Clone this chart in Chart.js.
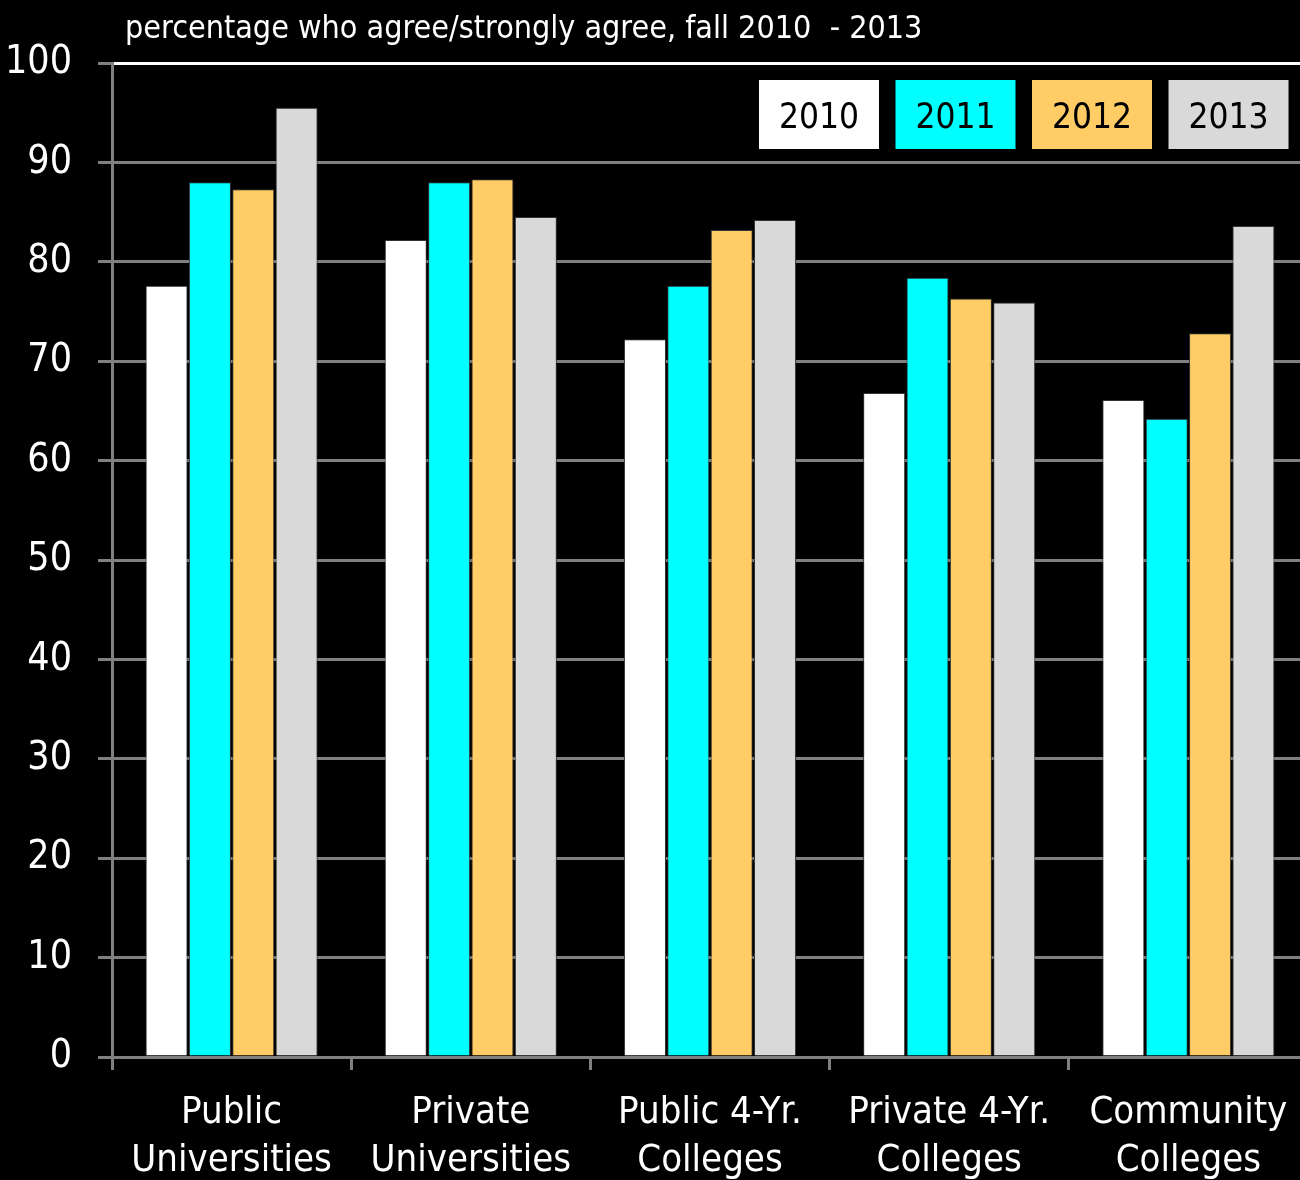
<!DOCTYPE html>
<html>
<head>
<meta charset="utf-8">
<script src="https://cdn.jsdelivr.net/npm/chart.js@4"></script>
<style>
  html, body { margin: 0; padding: 0; background: #000; overflow: hidden; }
  #wrap { width: 1310px; height: 1180px; position: relative; }
</style>
</head>
<body>
<div id="wrap"><canvas id="myChart"></canvas></div>
<script>
const categories = [
    ['Public', 'Universities'],
    ['Private', 'Universities'],
    ['Public 4-Yr.', 'Colleges'],
    ['Private 4-Yr.', 'Colleges'],
    ['Community', 'Colleges']
]
const years = ['2010', '2011', '2012', '2013']
const pct2010 = [77.6, 82.2, 72.2, 66.8, 66.1]
const pct2011 = [88.0, 88.0, 77.6, 78.4, 64.2]
const pct2012 = [87.3, 88.3, 83.2, 76.3, 72.8]
const pct2013 = [95.5, 84.5, 84.2, 75.9, 83.6]
const colors = ['#FFFFFF', '#00FFFF', '#FFCC66', '#D9D9D9']
const titleText = 'percentage who agree/strongly agree, fall 2010  - 2013'

const FONT = "'Liberation Sans Narrow', 'DejaVu Sans Condensed', 'Arial Narrow', sans-serif"
const GRID = '#808080'

// title line above the plot and the boxed year key in the top right
const extras = {
    id: 'extras',
    afterDraw(chart) {
        const c = chart.ctx
        c.save()
        c.fillStyle = '#fff'
        c.font = '32px ' + FONT
        c.textBaseline = 'alphabetic'
        c.textAlign = 'left'
        c.fillText(titleText, 125, 38)

        chart.data.datasets.forEach((ds, i) => {
            const x = 759 + i * 136.5, y = 80, w = 120, h = 69
            c.fillStyle = ds.backgroundColor
            c.fillRect(x, y, w, h)
            c.fillStyle = '#000'
            c.font = '35px ' + FONT
            c.textAlign = 'center'
            c.textBaseline = 'middle'
            c.fillText(ds.label, x + w / 2, y + h / 2 + 4)
        })
        c.restore()
    }
}

const datasets = [pct2010, pct2011, pct2012, pct2013].map((values, i) => ({
    label: years[i],
    data: values,
    backgroundColor: colors[i],
    borderColor: '#333333',
    borderWidth: 1,
    categoryPercentage: 0.725,
    barPercentage: 0.97
}))

new Chart(document.getElementById('myChart'), {
    type: 'bar',
    data: { labels: categories, datasets },
    options: {
        responsive: true,
        maintainAspectRatio: false,
        animation: false,
        layout: { padding: { top: 63, left: 0, right: 2, bottom: 0 } },
        plugins: {
            legend: { display: false },
            title: { display: false },
            tooltip: { enabled: false }
        },
        scales: {
            x: {
                afterFit: s => { s.height = 123 },
                grid: {
                    drawOnChartArea: false,
                    drawTicks: true,
                    tickLength: 13,
                    tickWidth: 3,
                    tickColor: GRID
                },
                border: { color: GRID, width: 3 },
                ticks: {
                    color: '#fff',
                    padding: 19,
                    maxRotation: 0,
                    font: { family: FONT, size: 38, lineHeight: 1.26 }
                }
            },
            y: {
                min: 0,
                max: 100,
                afterFit: s => { s.width = 112 },
                grid: {
                    color: ctx => ctx.tick && ctx.tick.value === 100 ? '#FFFFFF' : GRID,
                    lineWidth: 3,
                    tickLength: 14,
                    tickColor: GRID
                },
                border: { color: GRID, width: 3 },
                ticks: {
                    stepSize: 10,
                    color: '#fff',
                    padding: 26,
                    font: { family: FONT, size: 39 }
                }
            }
        }
    },
    plugins: [extras]
})
</script>
</body>
</html>
